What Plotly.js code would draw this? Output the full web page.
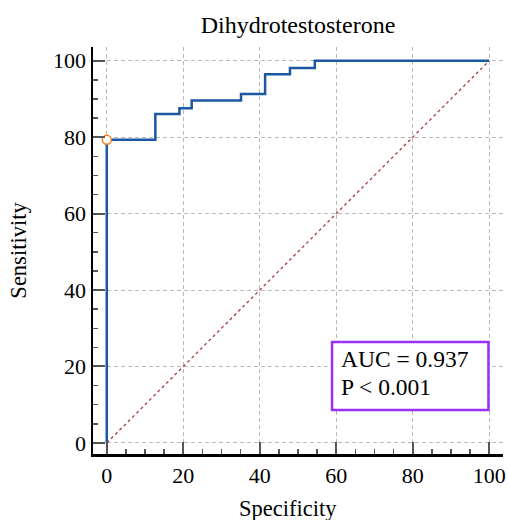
<!DOCTYPE html>
<html>
<head>
<meta charset="utf-8">
<script src="https://cdn.plot.ly/plotly-3.0.1.min.js"></script>
<style>html,body{margin:0;padding:0;background:#fff;}#chart{width:508px;height:520px;}</style>
</head>
<body>
<div id="chart"></div>
<script>
// ROC curve (x = 100 - specificity, y = sensitivity), step points
const rocX = [0, 0, 12.7, 19.0, 22.2, 35.1, 41.4, 47.9, 54.4, 100];
const rocY = [0, 79.3, 86.1, 87.6, 89.6, 91.3, 96.5, 98.1, 100, 100];
const refX = [0, 100];
const refY = [0, 100];
const cutX = [0];
const cutY = [79.3];
const tickVals = [0, 20, 40, 60, 80, 100];
const tickText = ['0', '20', '40', '60', '80', '100'];
const chartTitle = 'Dihydrotestosterone';
const xTitle = 'Specificity';
const yTitle = 'Sensitivity';
const statLines = ['AUC = 0.937', 'P &lt; 0.001'];

const serif = 'Liberation Serif, Times New Roman, serif';

const traces = [
  {x: refX, y: refY, mode: 'lines', line: {color: '#a83a3e', width: 1.3, dash: '3px,3px'}, hoverinfo: 'skip'},
  {x: rocX, y: rocY, mode: 'lines', line: {color: '#1b57a3', width: 2.5, shape: 'hv'}},
  {x: cutX, y: cutY, mode: 'markers', marker: {symbol: 'circle', size: 9, color: '#ffffff', line: {color: '#f47b20', width: 1.5}}, cliponaxis: false}
];

const axisCommon = {
  showline: true, linecolor: '#000', linewidth: 2.5, mirror: false,
  ticks: 'inside', ticklen: 12, tickwidth: 2, tickcolor: '#555',
  tickvals: tickVals, ticktext: tickText,
  showgrid: true, gridcolor: '#b8b8b8', griddash: '4px,3px', gridwidth: 1,
  zeroline: false,
  tickfont: {family: serif, size: 22, color: '#000'},
  minor: {dtick: 5, tick0: 0, ticks: 'inside', ticklen: 5, tickwidth: 1.5, tickcolor: '#555', showgrid: false}
};

const boxFont = {family: serif, size: 23.5, color: '#000'};

const layout = {
  width: 508, height: 520,
  margin: {l: 93, r: 5, t: 47, b: 66},
  paper_bgcolor: '#fff', plot_bgcolor: '#fff',
  showlegend: false,
  title: {text: chartTitle, font: {family: serif, size: 24, color: '#000'}, x: 0.5, xref: 'paper', y: 1 - 25 / 520, yref: 'container', yanchor: 'middle'},
  xaxis: Object.assign({}, axisCommon, {range: [-3.6, 103.6]}),
  yaxis: Object.assign({}, axisCommon, {range: [-2.9, 103.6], title: {text: yTitle, font: {family: serif, size: 22.5, color: '#000'}, standoff: 20}}),
  shapes: [{
    type: 'rect', xref: 'x', yref: 'y', x0: 58.9, x1: 99.8, y0: 8.6, y1: 26.4,
    line: {color: '#9b30f5', width: 2.5}, fillcolor: '#fff', layer: 'above'
  }],
  annotations: [
    {x: 60.6, y: 21.9, xref: 'x', yref: 'y', xanchor: 'left', yanchor: 'middle', text: statLines[0], showarrow: false, font: boxFont},
    {x: 60.6, y: 14.6, xref: 'x', yref: 'y', xanchor: 'left', yanchor: 'middle', text: statLines[1], showarrow: false, font: boxFont},
    {x: 288, y: 508, xref: 'paper', yref: 'paper', xanchor: 'center', yanchor: 'middle', text: xTitle, showarrow: false, font: {family: serif, size: 22.5, color: '#000'}}
  ]
};
// place the x-axis title annotation in pixel terms converted to paper coords
(function () {
  const a = layout.annotations[2];
  const pl = layout.margin.l, pw = layout.width - layout.margin.l - layout.margin.r;
  const pt = layout.margin.t, ph = layout.height - layout.margin.t - layout.margin.b;
  a.x = (288 - pl) / pw;
  a.y = 1 - (508 - pt) / ph;
})();

Plotly.newPlot('chart', traces, layout, {displayModeBar: false, staticPlot: true});
</script>
</body>
</html>
